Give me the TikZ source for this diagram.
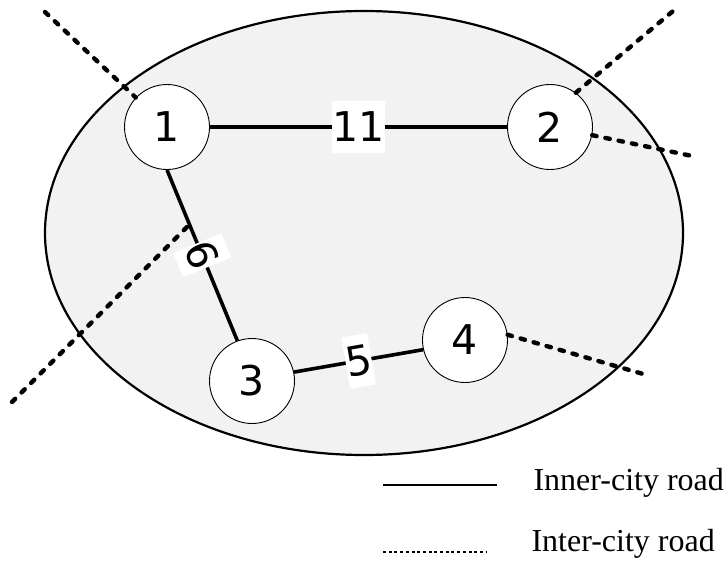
\documentclass[tikz,border=0pt]{standalone}
\usepackage{fontspec}
\setmainfont{Liberation Serif}
\newfontfamily\nodefont{DejaVu Sans}
\definecolor{cityfill}{RGB}{242,242,242}
\begin{document}
\begin{tikzpicture}[x=1pt,y=-1pt,
  city/.style={circle,draw,line width=0.9pt,fill=white,minimum size=85pt,inner sep=0pt,
    font=\nodefont\fontsize{41}{41}\selectfont},
  innerroad/.style={line width=3.6pt},
  interroad/.style={line width=4.4pt,line cap=round,dash pattern=on 4.5pt off 9pt},
  weight/.style={fill=white,inner sep=0pt,minimum height=52pt,sloped,
    font=\nodefont\fontsize{41}{41}\selectfont},
  legendtext/.style={anchor=base west,font=\fontsize{32}{32}\selectfont}]
\useasboundingbox (0,0) rectangle (726,567);

% city area
\draw[line width=2.2pt,fill=cityfill] (364,233) ellipse [x radius=319,y radius=222];

% intersections
\node[city] (n1) at (167,127) {1};
\node[city] (n2) at (550,127) {2};
\node[city] (n3) at (252,381) {3};
\node[city] (n4) at (465,340) {4};

% outer ends of the inter-city roads
\coordinate (wNW) at (45,12);
\coordinate (wNE) at (679,6);
\coordinate (wE)  at (697,157);
\coordinate (wSW) at (12,402);
\coordinate (wSWend) at (189,225);
\coordinate (wSE) at (650,376);

% inter-city roads
\draw[interroad] (wNW) -- (n1);
\draw[interroad] (n2.53) -- (wNE);
\draw[interroad] (n2.-11) -- (wE);
\draw[interroad] (wSW) -- (wSWend);
\draw[interroad] (n4.7) -- (wSE);

% inner-city roads with their weights
\draw[innerroad] (n1) -- node[weight] (w12) {11} (n2);
\draw[innerroad] (n1.south) -- node[weight] (w13) {6} (n3.110);
\draw[innerroad] (n3.12) -- node[weight] (w34) {5} (n4.193);

% legend
\coordinate (la) at (383,485);
\coordinate (lb) at (497,485);
\coordinate (lc) at (383,552);
\coordinate (ld) at (487,552);
\draw[line width=2.8pt] (la) -- (lb);
\draw[line width=2.6pt,dash pattern=on 3pt off 2.7pt] (lc) -- (ld);
\node[legendtext] (t1) at (530,490) {Inner-city road};
\node[legendtext] (t2) at (528,551) {Inter-city road};
\end{tikzpicture}
\end{document}
